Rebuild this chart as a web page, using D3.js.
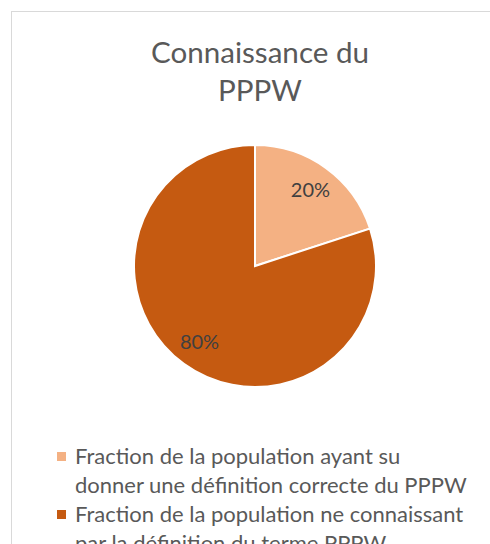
<!DOCTYPE html>
<html>
<head>
<meta charset="utf-8">
<script src="https://cdn.jsdelivr.net/npm/d3@7"></script>
<style>
  body { margin: 0; background: #fff; }
  svg { display: block; }
</style>
</head>
<body>
<div id="chart"></div>
<script>
// Data
const titleLines = ["Connaissance du", "PPPW"];
const categories = [
    ["Fraction de la population ayant su", "donner une définition correcte du PPPW"],
    ["Fraction de la population ne connaissant", "par la définition du terme PPPW"]
];
const values = [20, 80];
const colors = ["#F4B183", "#C55A11"];

const width = 490, height = 544;
const font = "Lato, 'Noto Sans', sans-serif";
const textColor = "#595959";

const svg = d3.select("#chart")
    .append("svg")
    .attr("width", width)
    .attr("height", height);

// chart area border (runs off right / bottom)
svg.append("rect")
    .attr("x", 11.5)
    .attr("y", 11.5)
    .attr("width", 520)
    .attr("height", 560)
    .attr("fill", "#fff")
    .attr("stroke", "#D9D9D9")
    .attr("stroke-width", 1);

// fit a text element to a target width by adjusting font size
function fitWidth(sel, target) {
    const n = sel.node();
    const fs = parseFloat(sel.attr("font-size"));
    const w = n.getComputedTextLength();
    sel.attr("font-size", fs * target / w);
    return fs * target / w;
}

// Title
const title = svg.append("g")
    .attr("font-family", font)
    .attr("fill", textColor)
    .attr("text-anchor", "middle");

const t0 = title.append("text")
    .attr("x", 260)
    .attr("y", 63)
    .attr("font-size", 28)
    .text(titleLines[0]);
const titleSize = fitWidth(t0, 218);

title.append("text")
    .attr("x", 260)
    .attr("y", 101)
    .attr("font-size", titleSize)
    .text(titleLines[1]);

// Pie
const cx = 255, cy = 266, r = 121;
const pie = d3.pie().sort(null).value(d => d);
const arc = d3.arc().innerRadius(0).outerRadius(r);
const labelArc = d3.arc().innerRadius(r * 0.78).outerRadius(r * 0.78);
const fmt = d3.format(".0%");
const total = d3.sum(values);

const g = svg.append("g")
    .attr("transform", `translate(${cx},${cy})`);

const slices = pie(values);

g.selectAll("path")
    .data(slices)
    .enter()
    .append("path")
        .attr("d", arc)
        .attr("fill", (d, i) => colors[i])
        .attr("stroke", "#fff")
        .attr("stroke-width", 2)
        .attr("stroke-linejoin", "miter");

g.selectAll("text")
    .data(slices)
    .enter()
    .append("text")
        .attr("transform", d => `translate(${labelArc.centroid(d)})`)
        .attr("text-anchor", "middle")
        .attr("dy", "0.35em")
        .attr("font-family", font)
        .attr("font-size", 20)
        .attr("fill", "#404040")
        .text(d => fmt(d.data / total));

// Legend
const legend = svg.append("g")
    .attr("font-family", font)
    .attr("fill", textColor);

const lineH = 29;
const probe = legend.append("text")
    .attr("x", 75)
    .attr("y", -100)
    .attr("font-size", 20)
    .text(categories[0][1]);
const legendSize = fitWidth(probe, 392);
probe.remove();

const items = legend.selectAll("g")
    .data(categories)
    .enter()
    .append("g")
    .attr("transform", (d, i) => `translate(0, ${464 + i * 2 * lineH})`);

items.append("rect")
    .attr("x", 57)
    .attr("y", -12)
    .attr("width", 9)
    .attr("height", 9)
    .attr("fill", (d, i) => colors[i]);

items.selectAll("text")
    .data(d => d)
    .enter()
    .append("text")
        .attr("x", 75)
        .attr("y", (d, j) => j * lineH)
        .attr("font-size", legendSize)
        .text(d => d);
</script>
</body>
</html>
